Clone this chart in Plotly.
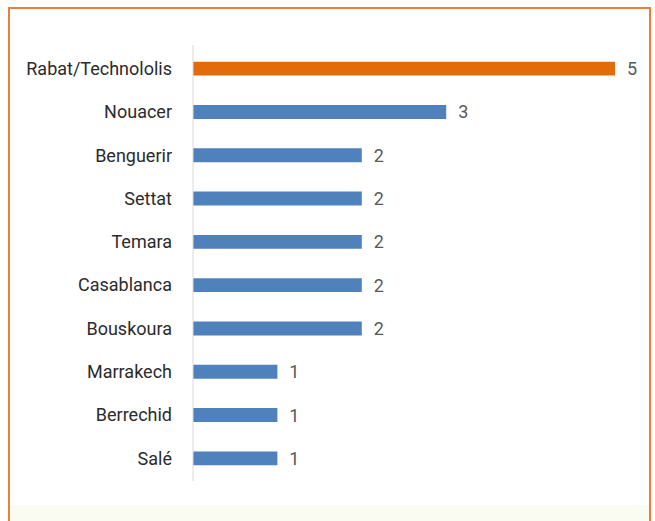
import plotly.graph_objects as go

categories = ["Rabat/Technololis", "Nouacer", "Benguerir", "Settat", "Temara",
              "Casablanca", "Bouskoura", "Marrakech", "Berrechid", "Salé"]
values = [5, 3, 2, 2, 2, 2, 2, 1, 1, 1]
bar_colors = ["#E36C0A"] + ["#4F81BD"] * 9

W, H = 655, 521
L, R, T, B = 193, 40, 47, 41
pw, ph = W - L - R, H - T - B

def px_x(px):
    return (px - L) / pw

def px_y(py):
    return (H - B - py) / ph

fig = go.Figure(go.Bar(
    y=categories, x=values, orientation="h",
    marker=dict(color=bar_colors, line=dict(width=0)),
    text=["  " + str(v) for v in values], textposition="outside",
    constraintext="none",
    textfont=dict(size=18, color="#595959", family="Roboto, sans-serif"),
    cliponaxis=False, width=0.32,
))

fig.update_layout(
    width=W, height=H,
    margin=dict(l=L, r=R, t=T, b=B, autoexpand=False),
    paper_bgcolor="#FFFFFF", plot_bgcolor="rgba(0,0,0,0)",
    showlegend=False,
    xaxis=dict(range=[0, 5], visible=False, fixedrange=True, automargin=False),
    yaxis=dict(autorange="reversed", showgrid=False, zeroline=False,
               showline=False, ticks="", automargin=False,
               ticklabelstandoff=20,
               tickfont=dict(size=18, color="#2B2B2B",
                             family="Roboto, sans-serif")),
    shapes=[
        dict(type="rect", xref="paper", yref="paper",
             x0=px_x(10), x1=px_x(649), y0=px_y(530), y1=px_y(505),
             fillcolor="#FBFCF1", line=dict(width=0), layer="below"),
        dict(type="line", xref="paper", yref="paper",
             x0=px_x(193), x1=px_x(193), y0=px_y(45), y1=px_y(481),
             line=dict(color="#D9D9D9", width=1)),
        dict(type="rect", xref="paper", yref="paper",
             x0=px_x(9), x1=px_x(650), y0=px_y(540), y1=px_y(8),
             line=dict(color="#E8803A", width=2), fillcolor="rgba(0,0,0,0)"),
    ],
)

fig.write_html(
    "out.html",
    config={"displayModeBar": False},
    post_script="document.body.style.margin='0';document.body.style.overflow='hidden';",
)
